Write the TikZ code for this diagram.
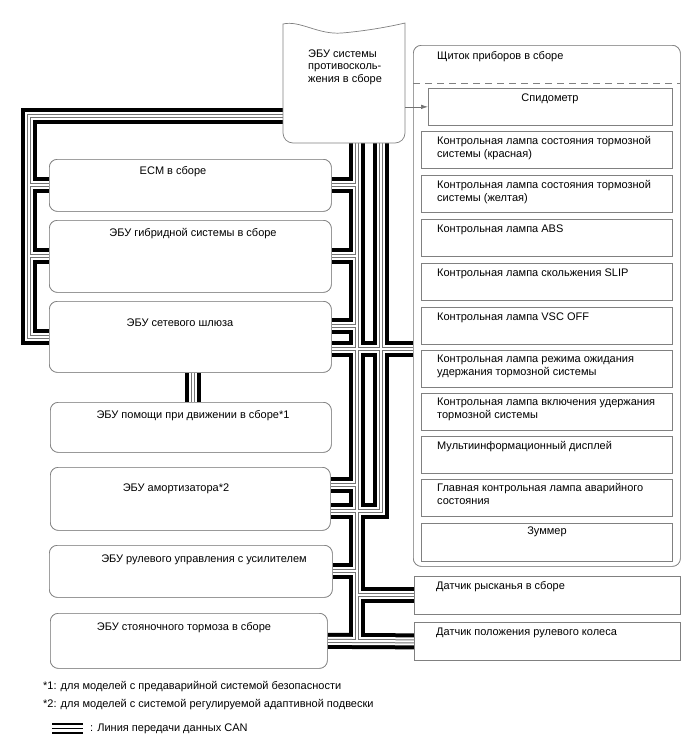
\documentclass[tikz,border=0pt]{standalone}
\usepackage{fontspec}
\setmainfont{Liberation Sans}
\usetikzlibrary{arrows.meta,calc}
\definecolor{boxgray}{gray}{0.5}
\definecolor{thingray}{gray}{0.45}
\newcommand\canpaths[1]{%
  \draw[#1] (as.west |- L) -- (L) -- (L |- gw.west) -- (gw.west);
  \draw[#1] (L |- ecm.west) -- (ecm.west);
  \draw[#1] (L |- hyb.west) -- (hyb.west);
  \draw[#1] (A) -- (A |- park.east);
  \draw[#1] (park.east) -- (ang.west);
  \draw[#1] (ecm.east) -- (ecm.east -| A);
  \draw[#1] (hyb.east) -- (hyb.east -| A);
  \draw[#1] ([yshift=11pt]gw.east) -- ([yshift=11pt]gw.east -| A);
  \draw[#1] ([yshift=13.5pt]am.east) -- ([yshift=13.5pt]am.east -| A);
  \draw[#1] (st.east) -- (st.east -| A);
  \draw[#1] (yaw.west) -- (yaw.west -| A);
  \draw[#1] (B) -- (B |- bB) -- (bB);
  \draw[#1] (gwc) -- (gwc -| cl.west);
  \draw[#1] (gw.south -| pg) -- (pa.north -| pg);
}
\begin{document}
\begin{tikzpicture}[x=1pt,y=-1pt,
  every node/.style={font=\fontsize{11}{12.5}\selectfont, inner sep=0pt},
  rbox/.style={draw=boxgray, fill=white, rounded corners=8pt, line width=0.7pt, anchor=north west},
  sbox/.style={draw=boxgray, fill=white, line width=0.7pt, anchor=north west},
  txt/.style={anchor=base west, align=left},
  ctxt/.style={anchor=base},
]
\useasboundingbox (0,0) rectangle (688,755);
% geometry nodes (for bus routing)
\node[minimum width=122pt, minimum height=119pt, anchor=north west] (as) at (283,24) {};
\node[rbox, minimum width=267pt, minimum height=521pt] (cl) at (413,45) {};
\node[rbox, minimum width=282pt, minimum height=52pt] (ecm) at (49,159) {};
\node[rbox, minimum width=282pt, minimum height=72pt] (hyb) at (49,220) {};
\node[rbox, minimum width=282pt, minimum height=71pt] (gw) at (49,301) {};
\node[rbox, minimum width=281pt, minimum height=50pt] (pa) at (50,402) {};
\node[rbox, minimum width=280pt, minimum height=63pt] (am) at (50,467) {};
\node[rbox, minimum width=283pt, minimum height=52pt] (st) at (49,545) {};
\node[rbox, minimum width=277pt, minimum height=55pt] (park) at (50,613) {};
\node[sbox, minimum width=266pt, minimum height=38pt] (yaw) at (414,576) {};
\node[sbox, minimum width=266pt, minimum height=38pt] (ang) at (414,622) {};
\coordinate (L) at (29,116);
\coordinate (A) at (357,143);
\coordinate (B) at (381,143);
\coordinate (bB) at ([yshift=-12.5pt]am.east);
\coordinate (gwc) at ([yshift=-12.5pt]gw.east);
\coordinate (pg) at (193,372);
% CAN bus, layered
\canpaths{line width=16pt, black}
\canpaths{line width=8pt, white}
\canpaths{line width=4pt, thingray}
\canpaths{line width=2pt, white}
% redraw boxes on top
\node[rbox, minimum width=267pt, minimum height=521pt] at (413,45) {};
\draw[boxgray, dashed, dash pattern=on 7pt off 5pt, line width=0.7pt] (413,83) -- (680,83);
\node[rbox, minimum width=282pt, minimum height=52pt] at (49,159) {};
\node[rbox, minimum width=282pt, minimum height=72pt] at (49,220) {};
\node[rbox, minimum width=282pt, minimum height=71pt] at (49,301) {};
\node[rbox, minimum width=281pt, minimum height=50pt] at (50,402) {};
\node[rbox, minimum width=280pt, minimum height=63pt] at (50,467) {};
\node[rbox, minimum width=283pt, minimum height=52pt] at (49,545) {};
\node[rbox, minimum width=277pt, minimum height=55pt] at (50,613) {};
\node[sbox, minimum width=266pt, minimum height=38pt] at (414,576) {};
\node[sbox, minimum width=266pt, minimum height=38pt] at (414,622) {};
% antiskid ECU (document shape)
\draw[boxgray, fill=white, line width=0.7pt]
  (283,133) -- (283,24) .. controls (300,20) and (318,35) .. (342,33)
  .. controls (365,31) and (388,27) .. (405,23) -- (405,133)
  arc[start angle=0, end angle=-90, radius=10pt] -- (293,143)
  arc[start angle=270, end angle=180, radius=10pt] -- cycle;
% cluster inner boxes
\node[sbox, minimum width=244pt, minimum height=37pt] (c1) at (428,88) {};
\node[sbox, minimum width=251pt, minimum height=37pt] (c2) at (421,131) {};
\node[sbox, minimum width=251pt, minimum height=37pt] (c3) at (421,175) {};
\node[sbox, minimum width=251pt, minimum height=37pt] (c4) at (421,219) {};
\node[sbox, minimum width=251pt, minimum height=37pt] (c5) at (421,263) {};
\node[sbox, minimum width=251pt, minimum height=37pt] (c6) at (421,307) {};
\node[sbox, minimum width=251pt, minimum height=37pt] (c7) at (421,350) {};
\node[sbox, minimum width=251pt, minimum height=37pt] (c8) at (421,393) {};
\node[sbox, minimum width=251pt, minimum height=37pt] (c9) at (421,436) {};
\node[sbox, minimum width=251pt, minimum height=37pt] (c10) at (421,479) {};
\node[sbox, minimum width=251pt, minimum height=38pt] (c11) at (421,523) {};
% arrow antiskid -> speedometer
\draw[thingray, line width=0.7pt, -{Latex[length=7pt,width=4.5pt]}] (as.east |- c1.west) -- (c1.west);
% texts (base anchor = baseline of last line)
\node[txt] (ast) at (308,82) {ЭБУ системы\\противосколь-\\жения в сборе};
\node[txt] (clt) at (437,59) {Щиток приборов в сборе};
\node[ctxt] (c1t) at (550,101) {Спидометр};
\node[txt] (c2t) at (437,157) {Контрольная лампа состояния тормозной\\системы (красная)};
\node[txt] (c3t) at (437,201) {Контрольная лампа состояния тормозной\\системы (желтая)};
\node[txt] (c4t) at (437,232.5) {Контрольная лампа ABS};
\node[txt] (c5t) at (437,276.5) {Контрольная лампа скольжения SLIP};
\node[txt] (c6t) at (437,320.5) {Контрольная лампа VSC OFF};
\node[txt] (c7t) at (437,375) {Контрольная лампа режима ожидания\\удержания тормозной системы};
\node[txt] (c8t) at (437,418) {Контрольная лампа включения удержания\\тормозной системы};
\node[txt] (c9t) at (437,449.5) {Мультиинформационный дисплей};
\node[txt] (c10t) at (437,504) {Главная контрольная лампа аварийного\\состояния};
\node[ctxt] (c11t) at (547,534) {Зуммер};
\node[txt] (yawt) at (436,589) {Датчик рысканья в сборе};
\node[txt] (angt) at (436,635) {Датчик положения рулевого колеса};
\node[ctxt] (ecmt) at (173,174) {ECM в сборе};
\node[ctxt] (hybt) at (193,236) {ЭБУ гибридной системы в сборе};
\node[ctxt] (gwt) at (180,326) {ЭБУ сетевого шлюза};
\node[ctxt] (pat) at (193,418) {ЭБУ помощи при движении в сборе*1};
\node[ctxt] (amt) at (176,491) {ЭБУ амортизатора*2};
\node[ctxt] (stt) at (204,562) {ЭБУ рулевого управления с усилителем};
\node[ctxt] (parkt) at (184,630) {ЭБУ стояночного тормоза в сборе};
% footnotes & legend
\node[txt] (f1) at (43,689) {*1: для моделей с предаварийной системой безопасности};
\node[txt] (f2) at (43,707) {*2: для моделей с системой регулируемой адаптивной подвески};
\draw[black, line width=2pt] (52,724) -- (83,724);
\draw[black, line width=1.2pt] (52,728.5) -- (83,728.5);
\draw[black, line width=2pt] (52,733) -- (83,733);
\node[txt] (lg) at (90,731) {: Линия передачи данных CAN};
\end{tikzpicture}
\end{document}
